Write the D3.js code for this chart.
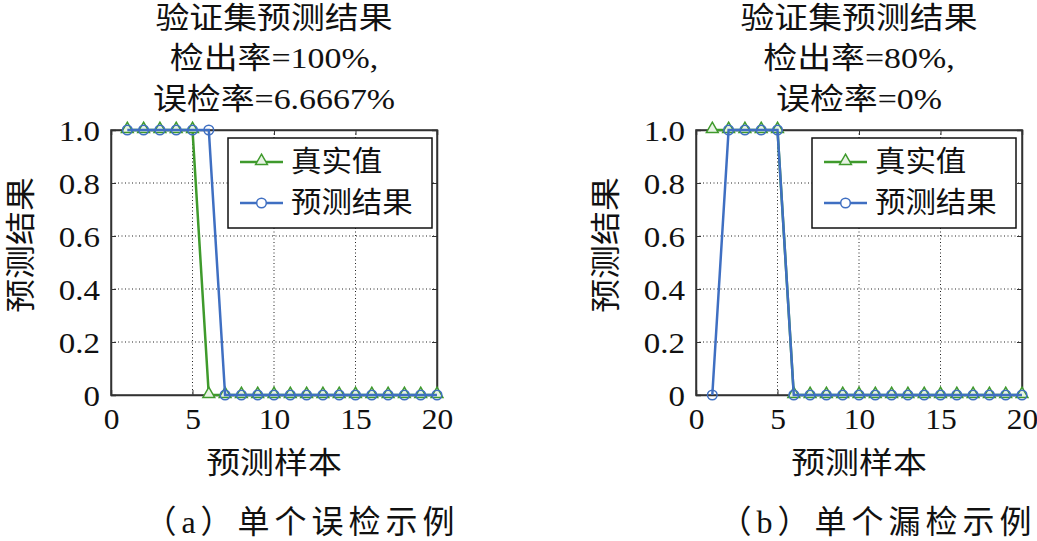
<!DOCTYPE html>
<html><head><meta charset="utf-8">
<script src="https://cdn.jsdelivr.net/npm/d3@7"></script>
<style>body{margin:0;background:#fff}svg{display:block}
text{font-family:"Liberation Serif","Times New Roman","Tinos","DejaVu Serif","Noto Sans CJK SC",serif !important;fill:#111}</style>
</head><body>
<svg id="chart" width="1037" height="541"></svg>
<script>
const samples = d3.range(1, 21);
const trueA = [1,1,1,1,1,0,0,0,0,0,0,0,0,0,0,0,0,0,0,0];
const predA = [1,1,1,1,1,1,0,0,0,0,0,0,0,0,0,0,0,0,0,0];
const trueB = [1,1,1,1,1,0,0,0,0,0,0,0,0,0,0,0,0,0,0,0];
const predB = [0,1,1,1,1,0,0,0,0,0,0,0,0,0,0,0,0,0,0,0];
const xTicks = [0,5,10,15,20];
const yTicks = [0,0.2,0.4,0.6,0.8,1.0];
const legendLabels = ["真实值","预测结果"];
const titlesA = ["验证集预测结果","检出率=100%,","误检率=6.6667%"];
const titlesB = ["验证集预测结果","检出率=80%,","误检率=0%"];
const captions = ["（a）单个误检示例","（b）单个漏检示例"];
const xLabel = "预测样本", yLabel = "预测结果";
const green = "#3f9a2c", blue = "#3f6fc2";
const SX = 1.13;

const svg = d3.select("#chart");

function label(g, x, y, t, size, anchor, rot, sx) {
  return g.append("text")
    .attr("transform", `translate(${x},${y})` + (rot ? ` rotate(${rot})` : "") + ` scale(${sx || SX},1)`)
    .attr("dy","0.36em").attr("text-anchor", anchor || "middle")
    .style("font-size", size + "px").text(t);
}

function panel(x0, x1, trueV, predV, titles, caption, capX, legX1) {
  const top = 130, bottom = 395;
  const x = d3.scaleLinear().domain([0,20]).range([x0,x1]);
  const y = d3.scaleLinear().domain([0,1]).range([bottom,top]);
  const g = svg.append("g");
  // grid
  g.selectAll(".gx").data(xTicks.slice(1,-1)).join("line")
    .attr("x1",d=>x(d)).attr("x2",d=>x(d)).attr("y1",top).attr("y2",bottom)
    .attr("stroke","#222").attr("stroke-width",1).attr("stroke-dasharray","1,2.5");
  g.selectAll(".gy").data(yTicks.slice(1,-1)).join("line")
    .attr("y1",d=>y(d)).attr("y2",d=>y(d)).attr("x1",x0).attr("x2",x1)
    .attr("stroke","#222").attr("stroke-width",1).attr("stroke-dasharray","1,2.5");
  // axes
  const ax = g.append("g").attr("transform",`translate(0,${bottom})`)
    .call(d3.axisBottom(x).tickValues(xTicks).tickSize(-5).tickFormat(d3.format("d")));
  const ay = g.append("g").attr("transform",`translate(${x0},0)`)
    .call(d3.axisLeft(y).tickValues(yTicks).tickSize(-5).tickFormat(d=>d===0?"0":d3.format(".1f")(d)));
  const axT = g.append("g").attr("transform",`translate(0,${top})`)
    .call(d3.axisTop(x).tickValues(xTicks).tickSize(-5).tickFormat(""));
  const ayR = g.append("g").attr("transform",`translate(${x1},0)`)
    .call(d3.axisRight(y).tickValues(yTicks).tickSize(-5).tickFormat(""));
  [ax,ay,axT,ayR].forEach(a=>{
    a.attr("font-family", null);
    a.select(".domain").attr("stroke","#333").attr("stroke-width",1.5);
    a.selectAll(".tick line").attr("stroke","#333");
    a.selectAll("text").style("font-size","30px").attr("fill","#111");
  });
  ax.selectAll("text").attr("y",null).attr("dy",null)
    .attr("transform",`translate(0,23) scale(1.05,1)`).attr("dy","0.36em");
  ay.selectAll("text").attr("x",null).attr("dy",null)
    .attr("transform",`translate(-11,0) scale(1.1,1)`).attr("dy","0.36em");
  // box
  g.append("rect").attr("x",x0).attr("y",top).attr("width",x1-x0).attr("height",bottom-top)
    .attr("fill","none").attr("stroke","#333").attr("stroke-width",1.5);
  // series
  const line = d3.line().x((d,i)=>x(samples[i])).y(d=>y(d));
  const tri = d3.symbol().type(d3.symbolTriangle).size(60);
  g.append("path").datum(trueV).attr("d",line).attr("fill","none").attr("stroke",green).attr("stroke-width",2.5);
  g.selectAll(".tri").data(trueV).join("path")
    .attr("transform",(d,i)=>`translate(${x(samples[i])},${y(d)-1})`).attr("d",tri)
    .attr("fill","#e8f3e4").attr("stroke",green).attr("stroke-width",1.5);
  g.append("path").datum(predV).attr("d",line).attr("fill","none").attr("stroke",blue).attr("stroke-width",2.5);
  g.selectAll(".cir").data(predV).join("circle")
    .attr("cx",(d,i)=>x(samples[i])).attr("cy",d=>y(d)).attr("r",4.8)
    .attr("fill","none").attr("stroke",blue).attr("stroke-width",1.5);
  // legend
  const lx0 = legX1 - 204, ly0 = 138;
  g.append("rect").attr("x",lx0).attr("y",ly0).attr("width",204).attr("height",90)
    .attr("fill","#fff").attr("stroke","#111").attr("stroke-width",1.5);
  const cols = [green, blue];
  legendLabels.forEach((lab,i)=>{
    const yy = ly0 + 24 + i*41;
    g.append("line").attr("x1",lx0+12).attr("x2",lx0+55).attr("y1",yy).attr("y2",yy)
      .attr("stroke",cols[i]).attr("stroke-width",2.5);
    if (i===0) g.append("path").attr("transform",`translate(${lx0+33.5},${yy-1})`).attr("d",tri)
      .attr("fill","#e8f3e4").attr("stroke",green).attr("stroke-width",1.5);
    else g.append("circle").attr("cx",lx0+33.5).attr("cy",yy).attr("r",4.8)
      .attr("fill","#fff").attr("stroke",blue).attr("stroke-width",1.5);
    g.append("text").attr("transform",`translate(${lx0+63},${yy}) scale(1.05,1)`).attr("dy","0.36em")
      .style("font-size","29px").text(lab);
  });
  // titles
  const cx = (x0+x1)/2;
  titles.forEach((t,i)=>label(g, cx, 17+i*40.5, t, 30));
  // axis labels
  label(g, cx, 462, xLabel, 30);
  label(g, x0-91, 245, yLabel, 30, "middle", -90);
  label(g, capX, 521, caption, 32, "middle", 0, 1.0).style("letter-spacing","5px");
}

panel(111, 437, trueA, predA, titlesA, captions[0], 302, 432);
panel(696, 1022, trueB, predB, titlesB, captions[1], 878, 1016);
</script>
</body></html>
